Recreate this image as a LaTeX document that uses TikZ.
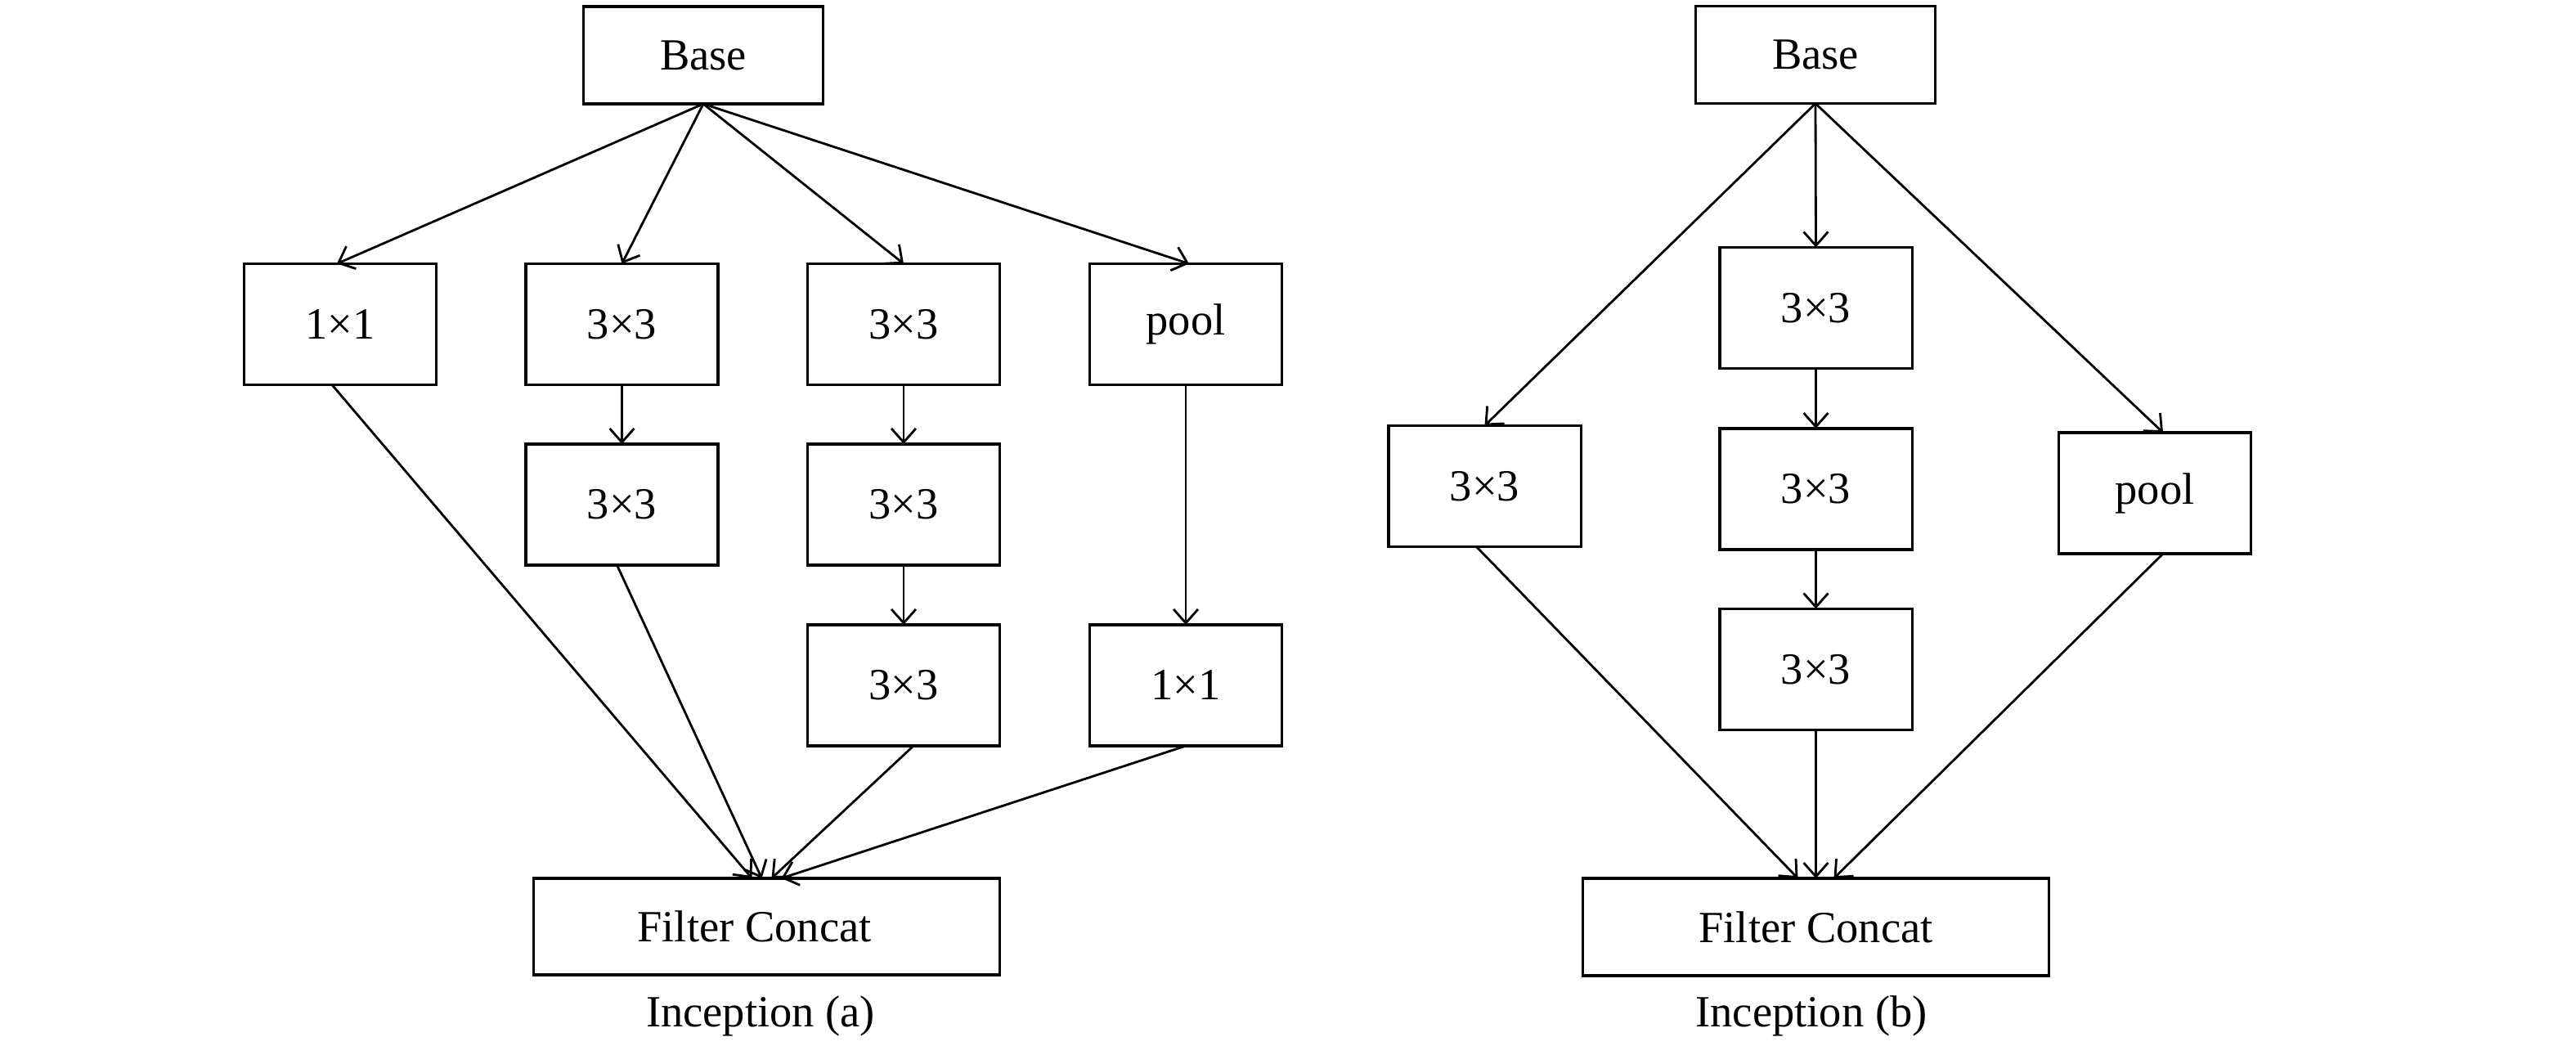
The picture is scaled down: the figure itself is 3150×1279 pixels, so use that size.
\documentclass[tikz,border=0pt]{standalone}
\usepackage{fontspec}
\setmainfont{Liberation Serif}
\usetikzlibrary{arrows.meta,calc}
\begin{document}
\begin{tikzpicture}[x=0.01cm,y=-0.01cm,
  blk/.style={draw, line width=0.9pt, inner sep=0pt, outer sep=0pt, font=\fontsize{15.5}{18}\selectfont,
    minimum width=2.35cm, minimum height=1.48cm},
  basebox/.style={blk, minimum width=2.93cm, minimum height=1.19cm},
  fcbox/.style={blk, minimum width=5.69cm, minimum height=1.18cm},
  captext/.style={font=\fontsize{15.5}{18}\selectfont, inner sep=0pt},
  arr/.style={line width=0.8pt, -{Straight Barb[length=4.8pt,width=8.5pt,line width=0.8pt]}}]
\useasboundingbox (0,0) rectangle (3150,1279);
% ---- Inception (a)
\node[basebox] (aB) at (860,67.5) {Base};
\node[blk] (a1) at (416,396.5) {1×1};
\node[blk] (a2) at (760.5,396.5) {3×3};
\node[blk] (a3) at (1105,396.5) {3×3};
\node[blk] (a4) at (1450,396.5) {pool};
\node[blk] (a22) at (760.5,617) {3×3};
\node[blk] (a32) at (1105,617) {3×3};
\node[blk] (a33) at (1105,838) {3×3};
\node[blk] (a43) at (1450,838) {1×1};
\node[fcbox] (aF) at (937.5,1133) {Filter Concat\hspace*{0.3cm}};
\node[captext] (aC) at (930,1242) {Inception (a)};
\draw[arr] (aB.south) -- ($(a1.north)+(-4,0)$);
\draw[arr] (aB.south) -- (a2.north);
\draw[arr] (aB.south) -- (a3.north);
\draw[arr] (aB.south) -- ($(a4.north)+(4,0)$);
\draw[arr] (a2.south) -- (a22.north);
\draw[arr] (a3.south) -- (a32.north);
\draw[arr] (a32.south) -- (a33.north);
\draw[arr] (a4.south) -- (a43.north);
\draw[arr] ($(a1.south)+(-10,0)$) -- ($(aF.north)+(-18,0)$);
\draw[arr] ($(a22.south)+(-6,0)$) -- ($(aF.north)+(-6,0)$);
\draw[arr] ($(a33.south)+(12,0)$) -- ($(aF.north)+(6,0)$);
\draw[arr] (a43.south) -- ($(aF.north)+(18,0)$);
% ---- Inception (b)
\node[basebox] (bB) at (2220,67) {Base};
\node[blk] (b1) at (2220.5,376.5) {3×3};
\node[blk] (b2) at (2220.5,598) {3×3};
\node[blk] (b3) at (2220.5,818.5) {3×3};
\node[blk] (bL) at (1815.5,594.5) {3×3};
\node[blk] (bP) at (2635,603) {pool};
\node[fcbox, minimum height=1.19cm] (bF) at (2220.5,1133.5) {Filter Concat};
\node[captext] (bC) at (2215,1242) {Inception (b)};
\draw[arr] (bB.south) -- (bL.north);
\draw[arr] (bB.south) -- (b1.north);
\draw[arr] (bB.south) -- ($(bP.north)+(10,0)$);
\draw[arr] (b1.south) -- (b2.north);
\draw[arr] (b2.south) -- (b3.north);
\draw[arr] ($(bL.south)+(-10,0)$) -- ($(bF.north)+(-22,0)$);
\draw[arr] (b3.south) -- (bF.north);
\draw[arr] ($(bP.south)+(10,0)$) -- ($(bF.north)+(22,0)$);
\end{tikzpicture}
\end{document}
